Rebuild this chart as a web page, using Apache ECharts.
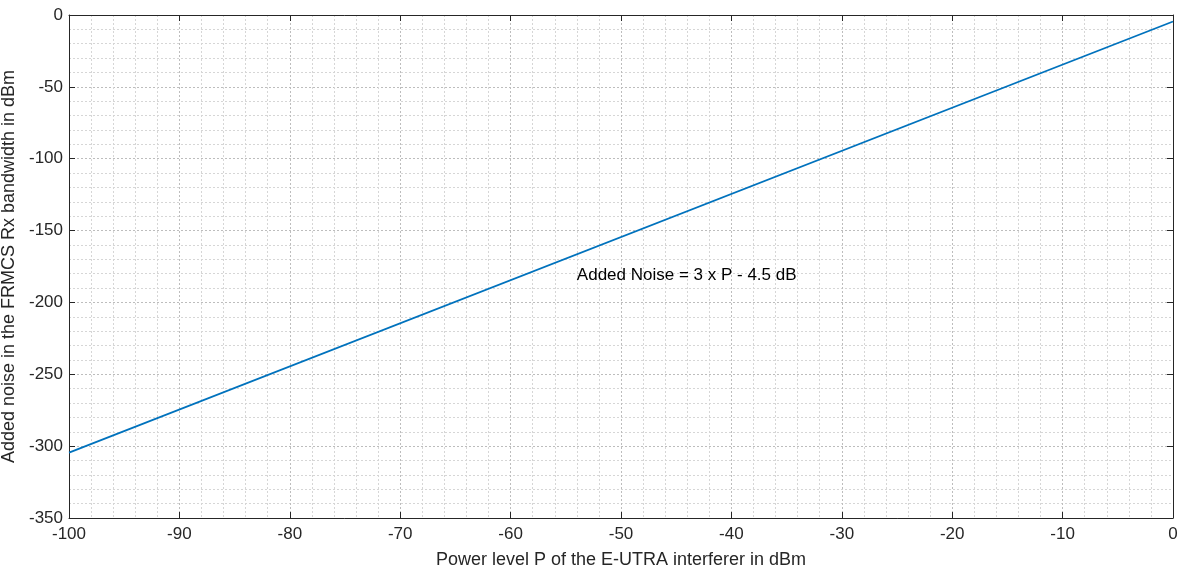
<!DOCTYPE html>
<html>
<head>
<meta charset="utf-8">
<script src="https://cdn.jsdelivr.net/npm/echarts@6/dist/echarts.min.js"></script>
<style>
  html, body { margin: 0; padding: 0; background: #fff; }
  #chart { width: 1182px; height: 569px; }
</style>
</head>
<body>
<div id="chart"></div>
<script>
const powerLevels = [-100, 0]
const addedNoise = [-304.5, -4.5]
const noteText = 'Added Noise = 3 x P - 4.5 dB'
const notePos = [-54, -181]

const font = '"Liberation Sans", Arial, sans-serif'
const textColor = '#262626'
const axisColor = '#262626'

const chart = echarts.init(document.getElementById('chart'))

function baseAxis(extra) {
  return Object.assign({
    axisLine: { show: true, onZero: false, lineStyle: { color: axisColor, width: 1 } },
    axisTick: { show: true, inside: true, length: 6, lineStyle: { color: axisColor } },
    minorTick: { show: false },
    splitLine: { show: false },
    minorSplitLine: { show: false },
  }, extra)
}

chart.setOption({
  animation: false,
  grid: { left: 69, right: 9, top: 15, bottom: 51, outerBoundsMode: 'none' },
  xAxis: [
    baseAxis({
      type: 'value', min: -100, max: 0, interval: 10,
      axisLabel: { color: textColor, fontSize: 17, fontFamily: font, margin: 8 },
      name: 'Power level P of the E-UTRA interferer in dBm',
      nameLocation: 'middle', nameGap: 33,
      nameTextStyle: { color: textColor, fontSize: 18, fontFamily: font },
      minorTick: { show: false, splitNumber: 5 },
      splitLine: { show: true, lineStyle: { color: '#bdbdbd', type: [2, 2], width: 1 } },
      minorSplitLine: { show: true, lineStyle: { color: '#d6d6d6', type: [2, 2], width: 1 } },
    }),
    baseAxis({
      type: 'value', min: -100, max: 0, interval: 10, position: 'top',
      axisLabel: { show: false },
    }),
  ],
  yAxis: [
    baseAxis({
      type: 'value', min: -350, max: 0, interval: 50,
      axisLabel: { color: textColor, fontSize: 17, fontFamily: font, margin: 6 },
      name: 'Added noise in the FRMCS Rx bandwidth in dBm',
      nameLocation: 'middle', nameGap: 41,
      nameTextStyle: { color: textColor, fontSize: 18, fontFamily: font },
      minorTick: { show: false, splitNumber: 5 },
      splitLine: { show: true, lineStyle: { color: '#bdbdbd', type: [2, 2], width: 1 } },
      minorSplitLine: { show: true, lineStyle: { color: '#d6d6d6', type: [2, 2], width: 1 } },
    }),
    baseAxis({
      type: 'value', min: -350, max: 0, interval: 50, position: 'right',
      axisLabel: { show: false },
    }),
  ],
  series: [
    {
      type: 'line',
      data: powerLevels.map((p, i) => [p, addedNoise[i]]),
      showSymbol: false,
      lineStyle: { color: '#0072BD', width: 1.8 },
      markPoint: {
        symbol: 'circle',
        symbolSize: 0,
        data: [{
          coord: notePos,
          label: {
            show: true,
            position: 'right',
            distance: 0,
            formatter: noteText,
            color: '#000',
            fontSize: 17,
            fontFamily: font,
          },
        }],
      },
    },
  ],
})
</script>
</body>
</html>
